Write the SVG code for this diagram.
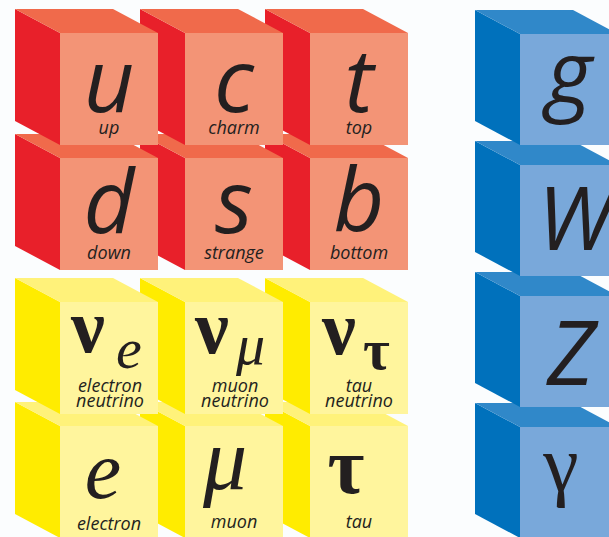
<svg xmlns="http://www.w3.org/2000/svg" xmlns:xlink="http://www.w3.org/1999/xlink" width="609" height="537" viewBox="0 0 609 537">
<style>
.rs{fill:#e8202a}.rt{fill:#f06a4b}.rf{fill:#f39476}
.ys{fill:#ffec00}.yt{fill:#fff27a}.yf{fill:#fff59d}
.bs{fill:#0071bc}.bt{fill:#3088c9}.bf{fill:#79a8da}
.big{font-family:"Open Sans","Liberation Sans",sans-serif;font-style:italic;font-size:88px;fill:#231f20;text-anchor:middle}
.lbl{font-family:"Open Sans","Liberation Sans",sans-serif;font-style:italic;font-size:18px;fill:#231f20;text-anchor:middle}
.gr{font-family:"Liberation Serif","DejaVu Serif",serif;fill:#231f20}
.nu{font-weight:bold}
</style>
<defs>
<g id="cube-red"><polygon class="rs" points="0,0 45,24 45,136 0,112"/><polygon class="rt" points="0,0 98,0 143,24 45,24"/><rect class="rf" x="45" y="24" width="98" height="112"/></g>
<g id="cube-yellow"><polygon class="ys" points="0,0 45,24 45,136 0,112"/><polygon class="yt" points="0,0 98,0 143,24 45,24"/><rect class="yf" x="45" y="24" width="98" height="112"/></g>
<g id="cube-blue"><polygon class="bs" points="0,0 45,24 45,135 0,111"/><polygon class="bt" points="0,0 98,0 143,24 45,24"/><rect class="bf" x="45" y="24" width="98" height="111"/></g>
</defs>
<rect width="609" height="537" fill="#fbfdfe"/>
<g id="quarks">
<g id="bottom" transform="translate(265,134)"><use xlink:href="#cube-red"/><text class="big" x="94" y="97">b</text><text class="lbl" x="94" y="125">bottom</text></g>
<g id="strange" transform="translate(140,134)"><use xlink:href="#cube-red"/><text class="big" x="94" y="99">s</text><text class="lbl" x="94" y="125">strange</text></g>
<g id="down" transform="translate(15,134)"><use xlink:href="#cube-red"/><text class="big" x="94" y="99">d</text><text class="lbl" x="94" y="125">down</text></g>
<g id="top" transform="translate(265,9)"><use xlink:href="#cube-red"/><text class="big" x="94" y="103">t</text><text class="lbl" x="94" y="125">top</text></g>
<g id="charm" transform="translate(140,9)"><use xlink:href="#cube-red"/><text class="big" x="94" y="103">c</text><text class="lbl" x="94" y="125">charm</text></g>
<g id="up" transform="translate(15,9)"><use xlink:href="#cube-red"/><text class="big" x="94" y="103">u</text><text class="lbl" x="94" y="125">up</text></g>
</g>
<g id="leptons">
<g id="tau" transform="translate(265,402)"><use xlink:href="#cube-yellow"/><text class="gr nu" x="81" y="91" font-size="80" text-anchor="middle">τ</text><text class="lbl" x="94" y="126">tau</text></g>
<g id="muon" transform="translate(140,402)"><use xlink:href="#cube-yellow"/><text class="gr" x="85" y="87" font-size="88" font-style="italic" text-anchor="middle">μ</text><text class="lbl" x="94" y="126">muon</text></g>
<g id="electron" transform="translate(15,402)"><use xlink:href="#cube-yellow"/><text class="gr" x="88" y="96" font-size="82" font-style="italic" text-anchor="middle">e</text><text class="lbl" x="94" y="128">electron</text></g>
<g id="tau-neutrino" transform="translate(265,278)"><use xlink:href="#cube-yellow"/><text class="gr"><tspan class="nu" x="57" y="76" font-size="76">ν</tspan><tspan class="nu" x="98" y="91" font-size="58">τ</tspan></text><text class="lbl" x="94" y="114">tau</text><text class="lbl" x="94" y="129">neutrino</text></g>
<g id="muon-neutrino" transform="translate(140,278)"><use xlink:href="#cube-yellow"/><text class="gr"><tspan class="nu" x="55" y="75" font-size="76">ν</tspan><tspan x="96" y="86" font-size="58" font-style="italic">μ</tspan></text><text class="lbl" x="95" y="114">muon</text><text class="lbl" x="95" y="129">neutrino</text></g>
<g id="electron-neutrino" transform="translate(15,278)"><use xlink:href="#cube-yellow"/><text class="gr"><tspan class="nu" x="56" y="74" font-size="76">ν</tspan><tspan x="101" y="90" font-size="58" font-style="italic">e</tspan></text><text class="lbl" x="95" y="114">electron</text><text class="lbl" x="95" y="129">neutrino</text></g>
</g>
<g id="bosons">
<g id="photon" transform="translate(475,403)"><use xlink:href="#cube-blue"/><text class="gr" x="86" y="88" font-size="80" text-anchor="middle">γ</text></g>
<g id="z-boson" transform="translate(475,272)"><use xlink:href="#cube-blue"/><text class="big" x="96" y="113" style="font-size:90px">Z</text></g>
<g id="w-boson" transform="translate(475,141)"><use xlink:href="#cube-blue"/><text class="big" x="100" y="109">W</text></g>
<g id="gluon" transform="translate(475,10)"><use xlink:href="#cube-blue"/><text class="big" x="94" y="94">g</text></g>
</g>
<g id="connectors"/>
</svg>
